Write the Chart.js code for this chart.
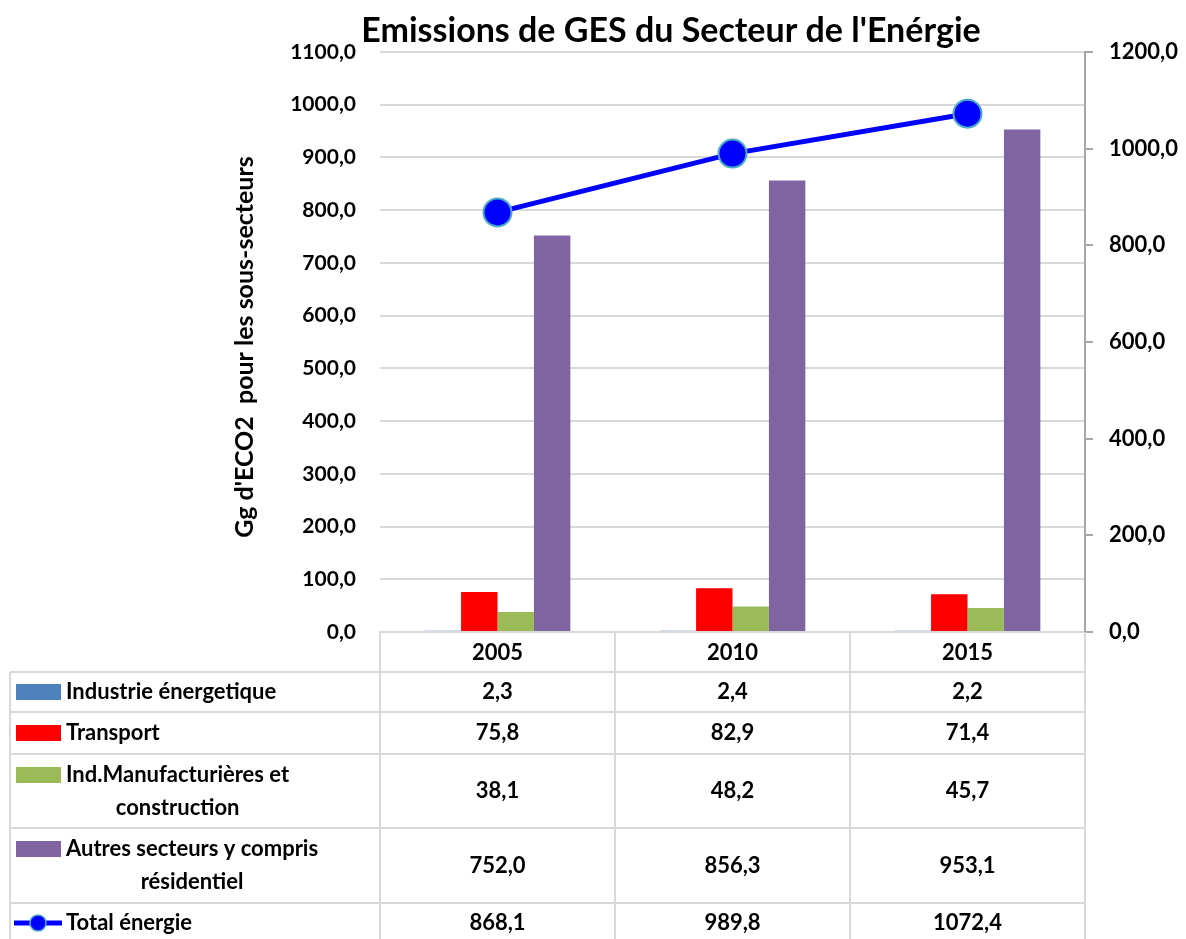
<!DOCTYPE html>
<html>
<head>
<meta charset="utf-8">
<script src="https://cdn.jsdelivr.net/npm/chart.js@4"></script>
<style>
  body { margin: 0; background: #fff; }
  #wrap { width: 1186px; height: 939px; }
</style>
</head>
<body>
<div id="wrap"><canvas id="gesChart" width="1186" height="939"></canvas></div>
<script>
const years = ["2005", "2010", "2015"];
const industrie = [2.3, 2.4, 2.2];
const transport = [75.8, 82.9, 71.4];
const manufacturieres = [38.1, 48.2, 45.7];
const autres = [752.0, 856.3, 953.1];
const totalEnergie = [868.1, 989.8, 1072.4];

const FONT = "Lato, 'Open Sans', sans-serif";
const TITLE = "Emissions de GES du Secteur de l'Enérgie";
const Y_TITLE = "Gg d'ECO2  pour les sous-secteurs";
const fmt = (v) => v.toFixed(1).replace(".", ",");

// rows of the data table under the chart
const tableRows = [
  { label: ["Industrie énergetique"], color: "#4f81bd", values: industrie, h: 40 },
  { label: ["Transport"], color: "#ff0000", values: transport, h: 42 },
  { label: ["Ind.Manufacturières et", "construction"], color: "#9bbb59", values: manufacturieres, h: 74 },
  { label: ["Autres secteurs y compris", "résidentiel"], color: "#8064a2", values: autres, h: 75 },
  { label: ["Total énergie"], line: true, values: totalEnergie, h: 40 },
];

const dataTable = {
  id: "dataTable",
  afterDraw(chart) {
    const ctx = chart.ctx;
    const x = chart.scales.x;
    const area = chart.chartArea;
    const left = 10;
    const colW = (area.right - area.left) / years.length;
    const gridColor = "#d9d9d9";
    const tableFont = "bold 22px " + FONT;
    ctx.save();
    // title (Excel puts it a bit left of the plot centre)
    ctx.fillStyle = "#000";
    ctx.font = "bold 34px " + FONT;
    ctx.textAlign = "center";
    ctx.textBaseline = "middle";
    ctx.fillText(TITLE, 671, 31);

    // left axis title
    ctx.save();
    ctx.translate(245, 347);
    ctx.rotate(-Math.PI / 2);
    ctx.font = "bold 25px " + FONT;
    ctx.fillText(Y_TITLE, 0, 0);
    ctx.restore();

    ctx.strokeStyle = gridColor;
    ctx.lineWidth = 2;
    let y = area.bottom;
    const headerBottom = y + 40;
    // header row
    ctx.font = tableFont;
    years.forEach((yr, i) => {
      ctx.fillText(yr, x.getPixelForValue(i), y + 21);
    });
    // vertical lines
    ctx.beginPath();
    for (let i = 0; i <= years.length; i++) {
      const px = area.left + i * colW;
      ctx.moveTo(px, area.bottom);
      ctx.lineTo(px, chart.height);
    }
    ctx.moveTo(left, headerBottom);
    ctx.lineTo(left, chart.height);
    ctx.stroke();
    y = headerBottom;
    tableRows.forEach((row) => {
      ctx.beginPath();
      ctx.moveTo(left, y);
      ctx.lineTo(area.right, y);
      ctx.stroke();
      const mid = y + row.h / 2;
      const firstLine = row.label.length > 1 ? y + 21 : mid;
      // legend key
      if (row.line) {
        ctx.strokeStyle = "#0000ff";
        ctx.lineWidth = 5;
        ctx.beginPath();
        ctx.moveTo(14, firstLine);
        ctx.lineTo(62, firstLine);
        ctx.stroke();
        ctx.beginPath();
        ctx.arc(38, firstLine, 8, 0, Math.PI * 2);
        ctx.fillStyle = "#0000ff";
        ctx.fill();
        ctx.lineWidth = 1.5;
        ctx.strokeStyle = "#4bacc6";
        ctx.stroke();
        ctx.strokeStyle = gridColor;
        ctx.lineWidth = 2;
      } else {
        ctx.fillStyle = row.color;
        ctx.fillRect(16, firstLine - 8, 45, 16);
      }
      ctx.fillStyle = "#000";
      ctx.font = tableFont;
      ctx.textAlign = "left";
      ctx.fillText(row.label[0], 66, firstLine);
      if (row.label.length > 1) {
        const w0 = ctx.measureText(row.label[0]).width;
        ctx.textAlign = "center";
        ctx.fillText(row.label[1], 66 + w0 / 2, firstLine + 33);
      }
      ctx.textAlign = "center";
      row.values.forEach((v, i) => {
        ctx.fillText(fmt(v), x.getPixelForValue(i), mid);
      });
      y += row.h;
    });
    ctx.restore();
  },
};

const ctx = document.getElementById("gesChart").getContext("2d");

new Chart(ctx, {
  data: {
    labels: years,
    datasets: [
      {
        type: "line",
        label: "Total énergie",
        data: totalEnergie,
        yAxisID: "y2",
        borderColor: "#0000ff",
        borderWidth: 5,
        pointRadius: 14,
        pointBackgroundColor: "#0000ff",
        pointBorderColor: "#4bacc6",
        pointBorderWidth: 2,
        order: 0,
      },
      { type: "bar", label: "Industrie énergetique", data: industrie, backgroundColor: "#4f81bd", yAxisID: "y", order: 1 },
      { type: "bar", label: "Transport", data: transport, backgroundColor: "#ff0000", yAxisID: "y", order: 1 },
      { type: "bar", label: "Ind.Manufacturières et construction", data: manufacturieres, backgroundColor: "#9bbb59", yAxisID: "y", order: 1 },
      { type: "bar", label: "Autres secteurs y compris résidentiel", data: autres, backgroundColor: "#8064a2", yAxisID: "y", order: 1 },
    ],
  },
  options: {
    responsive: false,
    animation: false,
    layout: { padding: { top: 52 } },
    datasets: {
      bar: { categoryPercentage: 0.62, barPercentage: 1 },
    },
    plugins: {
      legend: { display: false },
      tooltip: { enabled: false },
      title: { display: false },
    },
    scales: {
      x: {
        grid: { display: false },
        border: { display: true, color: "#d9d9d9", width: 2 },
        ticks: { display: false },
        afterFit(scale) {
          scale.height = 307;
          scale.paddingLeft = 0;
          scale.paddingRight = 0;
        },
      },
      y: {
        position: "left",
        min: 0,
        max: 1100,
        ticks: {
          stepSize: 100,
          color: "#000",
          padding: 24,
          font: { family: FONT, size: 21, weight: "bold" },
          callback: (v) => fmt(v),
        },
        grid: { color: "#d9d9d9", lineWidth: 2, drawTicks: false },
        border: { display: false },
        afterFit(scale) {
          scale.width = 380;
          scale.paddingTop = 0;
          scale.paddingBottom = 0;
        },
      },
      y2: {
        position: "right",
        min: 0,
        max: 1200,
        ticks: {
          stepSize: 200,
          color: "#000",
          padding: 16,
          font: { family: FONT, size: 22, weight: "bold" },
          callback: (v) => fmt(v),
        },
        grid: { drawOnChartArea: false, color: "#a6a6a6", tickLength: 8, lineWidth: 2 },
        border: { display: true, color: "#a6a6a6", width: 2 },
        afterFit(scale) {
          scale.width = 101;
          scale.paddingTop = 0;
          scale.paddingBottom = 0;
        },
      },
    },
  },
  plugins: [dataTable],
});
</script>
</body>
</html>
